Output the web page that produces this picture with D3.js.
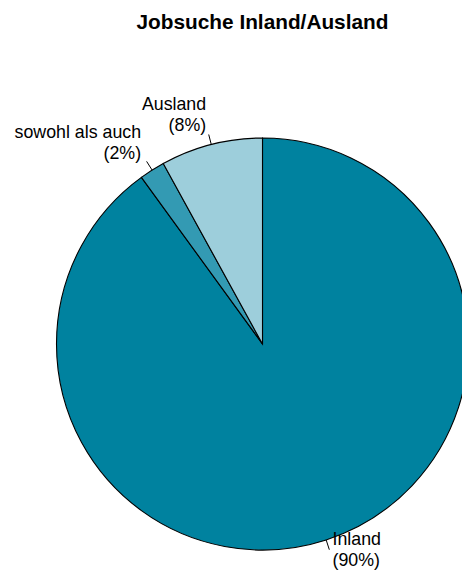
<!DOCTYPE html>
<html>
<head>
<meta charset="utf-8">
<script src="https://cdn.jsdelivr.net/npm/d3@7"></script>
<style>
  html, body { margin: 0; padding: 0; background: #fff; }
  svg { display: block; font-family: "Liberation Sans", Arial, sans-serif; }
</style>
</head>
<body>
<svg id="chart" width="462" height="575"></svg>
<script>
const title = "Jobsuche Inland/Ausland";
const categories = ["Inland", "sowohl als auch", "Ausland"];
const values = [90, 2, 8];
const colors = ["#00829f", "#339ab3", "#9dcedb"];

const W = 462, H = 575;
const cx = 262.5, cy = 344, R = 206;

const svg = d3.select("#chart");

svg.append("text")
  .attr("x", cx).attr("y", 29)
  .attr("text-anchor", "middle")
  .style("font-weight", "bold")
  .style("font-size", "20.8px")
  .text(title);

const data = categories.map((c, i) => ({ cat: c, value: values[i], color: colors[i] }));
const total = d3.sum(values);
const pie = d3.pie().sort(null).value(d => d.value);
const arcs = pie(data);
const arc = d3.arc().innerRadius(0).outerRadius(R);

const g = svg.append("g").attr("transform", `translate(${cx},${cy})`);

g.selectAll("path.slice").data(arcs).enter().append("path")
  .attr("class", "slice")
  .attr("d", arc)
  .attr("fill", d => d.data.color)
  .attr("stroke", "#000")
  .attr("stroke-width", 1.1);

arcs.forEach(a => {
  const mid = (a.startAngle + a.endAngle) / 2;
  const sx = Math.sin(mid), sy = -Math.cos(mid);
  g.append("line")
    .attr("x1", R * sx).attr("y1", R * sy)
    .attr("x2", 1.05 * R * sx).attr("y2", 1.05 * R * sy)
    .attr("stroke", "#000").attr("stroke-width", 1);
  const lx = 1.1 * R * sx, ly = 1.1 * R * sy;
  const t = g.append("text")
    .attr("text-anchor", sx < 0 ? "end" : "start")
    .style("font-size", "17.8px")
    .attr("fill", "#000");
  const pct = Math.round(a.data.value / total * 100);
  t.append("tspan").attr("x", lx).attr("y", ly - 15).text(a.data.cat);
  t.append("tspan").attr("x", lx).attr("y", ly + 6).text(`(${pct}%)`);
});
</script>
</body>
</html>
